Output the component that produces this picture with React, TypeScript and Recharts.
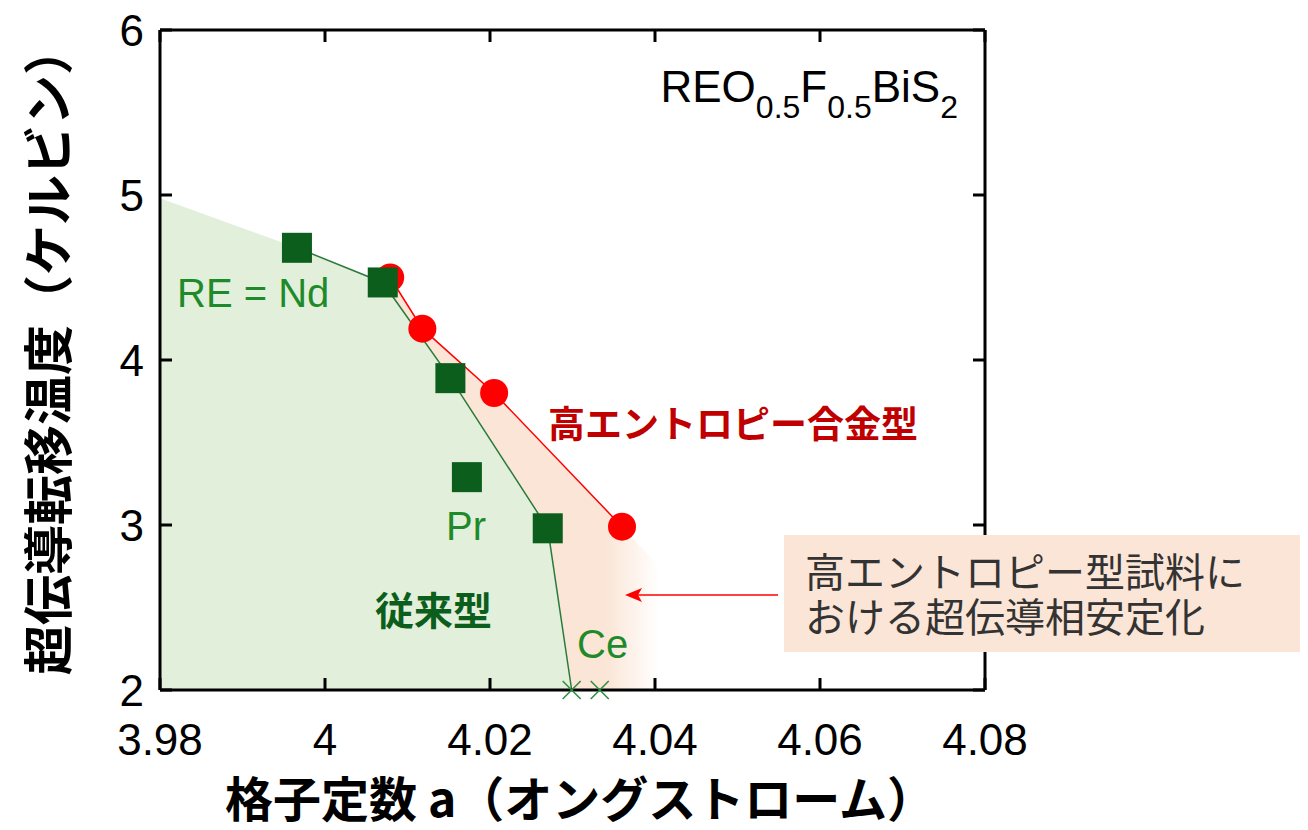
import React from 'react';
import { ComposedChart, XAxis, YAxis, Area, Line, Scatter } from 'recharts';

// ---- data ----
const xTicks = [3.98, 4, 4.02, 4.04, 4.06, 4.08];
const yTicks = [2, 3, 4, 5, 6];
const X_MIN = 3.98;
const X_MAX = 4.08;
const Y_MIN = 2;
const Y_MAX = 6;

// conventional REO0.5F0.5BiS2 (RE = Nd ... Ce)
const conventional = [
  { x: 3.9966, y: 4.68 },
  { x: 4.007, y: 4.47 },
  { x: 4.0152, y: 3.89 },
  { x: 4.0172, y: 3.29 },
  { x: 4.027, y: 2.98 },
];
const conventionalTrend = [
  { x: 3.9966, y: 4.68 },
  { x: 4.007, y: 4.47 },
  { x: 4.0152, y: 3.89 },
  { x: 4.027, y: 2.98 },
  { x: 4.0299, y: 2 },
];
const nonSuperconducting = [
  { x: 4.0299, y: 2 },
  { x: 4.0333, y: 2 },
];
// high-entropy alloy type
const highEntropy = [
  { x: 4.0079, y: 4.5 },
  { x: 4.0118, y: 4.19 },
  { x: 4.0205, y: 3.8 },
  { x: 4.036, y: 2.99 },
];
// shaded regions
const greenRegion = [{ x: 3.98, y: 4.98 }, ...conventionalTrend];
const peachRegion = [...highEntropy, { x: 4.0405, y: 2.75 }];

// inward tick marks, placed through the chart's scales
const bottomTickPts = xTicks.map((x) => ({ x, y: Y_MIN }));
const topTickPts = xTicks.map((x) => ({ x, y: Y_MAX }));
const leftTickPts = yTicks.map((y) => ({ x: X_MIN, y }));
const rightTickPts = yTicks.map((y) => ({ x: X_MAX, y }));

const LATIN = '"Liberation Sans", Arial, sans-serif';
const JP = '"Noto Sans CJK JP", sans-serif';

const W = 1300;
const H = 822;
const TL = 12;

const fmt = (v: number) => String(v);

const BottomTick = (p: any) => (
  <text x={p.x} y={p.y + 65} textAnchor="middle" fontFamily={LATIN} fontSize={44} fill="#000">
    {fmt(p.payload.value)}
  </text>
);
const LeftTick = (p: any) => (
  <text x={p.x - 16} y={p.y + 16} textAnchor="end" fontFamily={LATIN} fontSize={44} fill="#000">
    {fmt(p.payload.value)}
  </text>
);
const NoLabel = () => <g />;

const axisStyle = { stroke: '#000', strokeWidth: 3 };

const markUp = (p: any) => <line x1={p.cx} x2={p.cx} y1={p.cy} y2={p.cy - TL} stroke="#000" strokeWidth={3} />;
const markDown = (p: any) => <line x1={p.cx} x2={p.cx} y1={p.cy} y2={p.cy + TL} stroke="#000" strokeWidth={3} />;
const markRight = (p: any) => <line x1={p.cx} x2={p.cx + TL} y1={p.cy} y2={p.cy} stroke="#000" strokeWidth={3} />;
const markLeft = (p: any) => <line x1={p.cx} x2={p.cx - TL} y1={p.cy} y2={p.cy} stroke="#000" strokeWidth={3} />;

const Square = (p: any) => (
  <rect x={p.cx - 15} y={p.cy - 15} width={30} height={30} fill="#0b5e1c" />
);
const Dot = (p: any) => <circle cx={p.cx} cy={p.cy} r={14} fill="#ff0000" />;
const Cross = (p: any) => (
  <g stroke="#2e8b3e" strokeWidth={1.5}>
    <line x1={p.cx - 9} y1={p.cy - 9} x2={p.cx + 9} y2={p.cy + 9} />
    <line x1={p.cx - 9} y1={p.cy + 9} x2={p.cx + 9} y2={p.cy - 9} />
  </g>
);

export default function App() {
  return (
    <div style={{ position: 'relative', width: W, height: H }}>
      <ComposedChart width={W} height={H} margin={{ top: 21, right: 0, bottom: 0, left: 0 }}>
        <defs>
          <linearGradient id="peachFade" x1="0" y1="0" x2="1" y2="0">
            <stop offset="0" stopColor="#fbe5d6" stopOpacity={1} />
            <stop offset="0.8" stopColor="#fbe5d6" stopOpacity={1} />
            <stop offset="1" stopColor="#fbe5d6" stopOpacity={0} />
          </linearGradient>
        </defs>
        <XAxis
          xAxisId="b"
          type="number"
          dataKey="x"
          domain={[X_MIN, X_MAX]}
          ticks={xTicks}
          interval={0}
          height={140}
          tickSize={0}
          tickMargin={0}
          tickLine={false}
          axisLine={axisStyle}
          tick={BottomTick}
        />
        <XAxis
          xAxisId="t"
          orientation="top"
          type="number"
          dataKey="x"
          domain={[X_MIN, X_MAX]}
          ticks={xTicks}
          interval={0}
          height={1}
          tickSize={0}
          tickMargin={0}
          tickLine={false}
          axisLine={axisStyle}
          tick={NoLabel}
        />
        <YAxis
          yAxisId="l"
          type="number"
          domain={[Y_MIN, Y_MAX]}
          ticks={yTicks}
          interval={0}
          width={152}
          tickSize={0}
          tickMargin={0}
          tickLine={false}
          axisLine={axisStyle}
          tick={LeftTick}
        />
        <YAxis
          yAxisId="r"
          orientation="right"
          type="number"
          domain={[Y_MIN, Y_MAX]}
          ticks={yTicks}
          interval={0}
          width={323}
          tickSize={0}
          tickMargin={0}
          tickLine={false}
          axisLine={axisStyle}
          tick={NoLabel}
        />
        <Area
          xAxisId="b"
          yAxisId="l"
          data={peachRegion}
          dataKey="y"
          type="linear"
          baseValue={2}
          stroke="none"
          fill="url(#peachFade)"
          fillOpacity={1}
          isAnimationActive={false}
          dot={false}
          activeDot={false}
        />
        <Area
          xAxisId="b"
          yAxisId="l"
          data={greenRegion}
          dataKey="y"
          type="linear"
          baseValue={2}
          stroke="none"
          fill="#e2efda"
          fillOpacity={1}
          isAnimationActive={false}
          dot={false}
          activeDot={false}
        />
        <Line
          xAxisId="b"
          yAxisId="l"
          data={conventionalTrend}
          dataKey="y"
          type="linear"
          stroke="#2a7a3a"
          strokeWidth={1.5}
          dot={false}
          activeDot={false}
          isAnimationActive={false}
        />
        <Line
          xAxisId="b"
          yAxisId="l"
          data={highEntropy}
          dataKey="y"
          type="linear"
          stroke="#ff0000"
          strokeWidth={1.5}
          dot={false}
          activeDot={false}
          isAnimationActive={false}
        />
        <Scatter xAxisId="b" yAxisId="l" data={bottomTickPts} dataKey="y" shape={markUp} isAnimationActive={false} />
        <Scatter xAxisId="b" yAxisId="l" data={topTickPts} dataKey="y" shape={markDown} isAnimationActive={false} />
        <Scatter xAxisId="b" yAxisId="l" data={leftTickPts} dataKey="y" shape={markRight} isAnimationActive={false} />
        <Scatter xAxisId="b" yAxisId="l" data={rightTickPts} dataKey="y" shape={markLeft} isAnimationActive={false} />
        <Scatter xAxisId="b" yAxisId="l" data={nonSuperconducting} dataKey="y" shape={Cross} isAnimationActive={false} />
        <Scatter xAxisId="b" yAxisId="l" data={highEntropy} dataKey="y" shape={Dot} isAnimationActive={false} />
        <Scatter xAxisId="b" yAxisId="l" data={conventional} dataKey="y" shape={Square} isAnimationActive={false} />
      </ComposedChart>

      <svg
        width={W}
        height={H}
        style={{ position: 'absolute', left: 0, top: 0, pointerEvents: 'none' }}
      >
        {/* axis titles */}
        <text
          transform="translate(37,342) rotate(-90)"
          textAnchor="middle"
          dominantBaseline="central"
          fontFamily={JP}
          fontWeight={700}
          fontSize={50}
          fill="#000"
        >
          超伝導転移温度（ケルビン）
        </text>
        <text
          x={572}
          y={788}
          textAnchor="middle"
          dominantBaseline="central"
          fontFamily={JP}
          fontWeight={700}
          fontSize={48}
          fill="#000"
        >
          格子定数 a（オングストローム）
        </text>

        {/* formula */}
        <text x={950} y={94} textAnchor="end" fontFamily={LATIN} fontSize={44} fill="#000">
          REO
          <tspan fontSize={32} dy={16}>0.5</tspan>
          <tspan dy={-16}>F</tspan>
          <tspan fontSize={32} dy={16}>0.5</tspan>
          <tspan dy={-16}>BiS</tspan>
          <tspan fontSize={32} dy={16}>2</tspan>
        </text>

        {/* series labels */}
        <text x={169} y={299} fontFamily={LATIN} fontSize={40} fill="#1f8a2a">RE = Nd</text>
        <text x={438} y={532} fontFamily={LATIN} fontSize={40} fill="#1f8a2a">Pr</text>
        <text x={569} y={650} fontFamily={LATIN} fontSize={40} fill="#1f8a2a">Ce</text>
        <text x={367} y={600} dominantBaseline="central" fontFamily={JP} fontWeight={700} fontSize={39} fill="#0b5e1c">
          従来型
        </text>
        <text x={540} y={414} dominantBaseline="central" fontFamily={JP} fontWeight={700} fontSize={37} fill="#c00000">
          高エントロピー合金型
        </text>

        {/* annotation arrow */}
        <line x1={770} y1={587} x2={630} y2={587} stroke="#ff0000" strokeWidth={1.5} />
        <path d="M617,587 L634,580 L630,587 L634,594 Z" fill="#ff0000" />
        {/* annotation box */}
        <rect x={776} y={527} width={516} height={117} fill="#fbe5d6" />
        <text x={797} y={562} dominantBaseline="central" fontFamily={JP} fontSize={40} fill="#333">
          高エントロピー型試料に
        </text>
        <text x={797} y={607} dominantBaseline="central" fontFamily={JP} fontSize={40} fill="#333">
          おける超伝導相安定化
        </text>
      </svg>
    </div>
  );
}
